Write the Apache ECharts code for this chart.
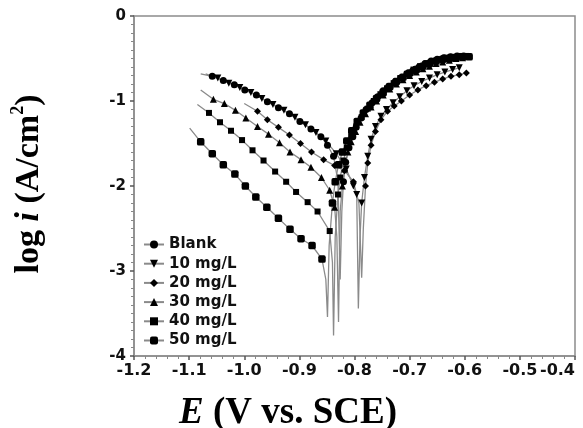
<!DOCTYPE html>
<html>
<head>
<meta charset="utf-8">
<script src="https://cdn.jsdelivr.net/npm/echarts@6/dist/echarts.min.js"></script>
<style>
  html, body { margin: 0; padding: 0; background: #fff; }
  #chart { width: 583px; height: 428px; }
</style>
</head>
<body>
<div id="chart"></div>
<script>
// Données : E (V vs. SCE) et log i (A/cm2)
const blankE = [-1.079, -1.058, -1.038, -1.018, -0.999, -0.978, -0.958, -0.938, -0.918, -0.899, -0.879, -0.861, -0.849, -0.838, -0.830, -0.826, -0.823, -0.820, -0.816, -0.810, -0.803, -0.797, -0.788, -0.779, -0.768, -0.758, -0.748, -0.738, -0.727, -0.716, -0.705, -0.694, -0.683, -0.672, -0.661, -0.650, -0.638, -0.626, -0.614, -0.602];
const blankLogI = [-0.68, -0.71, -0.76, -0.81, -0.87, -0.93, -1.01, -1.08, -1.15, -1.24, -1.33, -1.42, -1.52, -1.65, -1.95, -3.10, -2.30, -1.95, -1.72, -1.55, -1.42, -1.31, -1.20, -1.10, -1.02, -0.95, -0.88, -0.83, -0.78, -0.73, -0.68, -0.64, -0.60, -0.56, -0.53, -0.51, -0.49, -0.48, -0.47, -0.47];
const blankNoMark = [0, 14, 15, 16];

const c10E = [-1.070, -1.048, -1.028, -1.008, -0.988, -0.968, -0.948, -0.928, -0.908, -0.889, -0.870, -0.852, -0.833, -0.815, -0.802, -0.796, -0.793, -0.790, -0.787, -0.782, -0.776, -0.770, -0.762, -0.752, -0.742, -0.730, -0.718, -0.705, -0.692, -0.678, -0.664, -0.650, -0.636, -0.622, -0.610];
const c10LogI = [-0.68, -0.73, -0.79, -0.84, -0.90, -0.97, -1.04, -1.11, -1.19, -1.28, -1.37, -1.47, -1.62, -1.80, -2.00, -2.10, -3.44, -2.60, -2.20, -1.90, -1.65, -1.45, -1.30, -1.18, -1.10, -1.02, -0.95, -0.88, -0.82, -0.77, -0.73, -0.69, -0.66, -0.63, -0.61];
const c10NoMark = [0, 16, 17];

const c20E = [-1.000, -0.976, -0.958, -0.938, -0.918, -0.898, -0.878, -0.856, -0.836, -0.818, -0.802, -0.792, -0.787, -0.784, -0.780, -0.776, -0.770, -0.762, -0.752, -0.740, -0.728, -0.715, -0.700, -0.685, -0.670, -0.655, -0.640, -0.625, -0.610, -0.597];
const c20LogI = [-1.03, -1.12, -1.22, -1.31, -1.40, -1.50, -1.60, -1.69, -1.76, -1.82, -1.95, -2.20, -3.08, -2.50, -2.00, -1.73, -1.52, -1.36, -1.22, -1.12, -1.06, -1.00, -0.93, -0.87, -0.82, -0.78, -0.74, -0.71, -0.69, -0.67];
const c20NoMark = [0, 11, 12, 13];

const c30E = [-1.079, -1.056, -1.036, -1.016, -0.997, -0.976, -0.956, -0.936, -0.917, -0.897, -0.879, -0.860, -0.845, -0.836, -0.832, -0.829, -0.826, -0.822, -0.818, -0.812, -0.806, -0.798, -0.790, -0.780, -0.770, -0.760, -0.748, -0.736, -0.724, -0.712, -0.700, -0.688, -0.676, -0.664, -0.652, -0.640, -0.628, -0.616, -0.604];
const c30LogI = [-0.87, -0.98, -1.03, -1.11, -1.20, -1.30, -1.39, -1.49, -1.60, -1.69, -1.78, -1.90, -2.05, -2.25, -2.60, -3.60, -2.30, -2.00, -1.80, -1.60, -1.48, -1.36, -1.25, -1.15, -1.07, -1.00, -0.93, -0.86, -0.80, -0.75, -0.70, -0.66, -0.62, -0.59, -0.56, -0.54, -0.52, -0.50, -0.49];
const c30NoMark = [0, 14, 15, 16];

const c40E = [-1.085, -1.064, -1.044, -1.024, -1.004, -0.985, -0.965, -0.944, -0.924, -0.906, -0.885, -0.867, -0.845, -0.840, -0.838, -0.835, -0.830, -0.826, -0.820, -0.814, -0.806, -0.797, -0.787, -0.776, -0.765, -0.753, -0.741, -0.729, -0.717, -0.705, -0.693, -0.681, -0.669, -0.657, -0.645, -0.633, -0.621, -0.609, -0.597];
const c40LogI = [-1.04, -1.14, -1.25, -1.35, -1.46, -1.58, -1.70, -1.83, -1.95, -2.07, -2.19, -2.30, -2.53, -2.90, -3.76, -2.60, -2.10, -1.90, -1.70, -1.55, -1.42, -1.30, -1.19, -1.09, -1.00, -0.92, -0.85, -0.79, -0.73, -0.68, -0.63, -0.59, -0.56, -0.53, -0.51, -0.49, -0.48, -0.47, -0.47];
const c40NoMark = [0, 13, 14, 15];

const c50E = [-1.099, -1.079, -1.058, -1.038, -1.017, -0.998, -0.979, -0.959, -0.938, -0.917, -0.897, -0.877, -0.859, -0.852, -0.849, -0.846, -0.840, -0.835, -0.829, -0.822, -0.814, -0.805, -0.795, -0.784, -0.772, -0.760, -0.748, -0.736, -0.724, -0.712, -0.700, -0.688, -0.676, -0.664, -0.652, -0.640, -0.628, -0.616, -0.604, -0.592];
const c50LogI = [-1.32, -1.48, -1.62, -1.75, -1.86, -2.00, -2.13, -2.25, -2.38, -2.51, -2.62, -2.70, -2.86, -3.10, -3.54, -2.70, -2.20, -1.95, -1.75, -1.60, -1.47, -1.35, -1.24, -1.14, -1.05, -0.97, -0.90, -0.83, -0.77, -0.72, -0.67, -0.63, -0.59, -0.56, -0.53, -0.51, -0.50, -0.49, -0.48, -0.48];
const c50NoMark = [0, 13, 14, 15];

const seriesNames = ['Blank', '10 mg/L', '20 mg/L', '30 mg/L', '40 mg/L', '50 mg/L'];
const xTicks = [-1.2, -1.1, -1.0, -0.9, -0.8, -0.7, -0.6, -0.5, -0.4];
const yTicks = [-4, -3, -2, -1, 0];

// Construit les points d'une courbe (sans symbole aux indices donnés)
function buildData(E, logI, noMark) {
    return E.map((e, i) => {
        const item = { value: [e, logI[i]] };
        if (noMark.includes(i)) item.symbol = 'none';
        return item;
    });
}

function makeSerie(name, E, logI, noMark, symbol, size, rotate) {
    return {
        name: name,
        type: 'line',
        data: buildData(E, logI, noMark),
        symbol: symbol,
        symbolSize: size,
        symbolRotate: rotate || 0,
        showAllSymbol: true,
        lineStyle: { color: '#8a8a8a', width: 1.3 },
        itemStyle: { color: '#000', borderWidth: 0 },
        emphasis: { disabled: true }
    };
}

document.addEventListener('DOMContentLoaded', function() {
    const chart = echarts.init(document.getElementById('chart'));
    const tickFont = { fontFamily: 'DejaVu Sans', fontWeight: 'bold', color: '#111' };
    const serif = 'Liberation Serif';

    const option = {
        animation: false,
        backgroundColor: '#fff',
        grid: {
            left: 134, right: 8, top: 16, bottom: 72,
            containLabel: false,
            outerBoundsMode: 'none',
            show: true, borderColor: '#8c8c8c', borderWidth: 1.5
        },
        xAxis: {
            type: 'value',
            min: xTicks[0],
            max: xTicks[xTicks.length - 1],
            interval: 0.1,
            axisLine: { show: true, onZero: false, lineStyle: { color: '#8c8c8c', width: 1.5 } },
            axisTick: { show: true, inside: false, length: 4, lineStyle: { color: '#555', width: 1.5 } },
            minorTick: { show: true, splitNumber: 5, length: 3, lineStyle: { color: '#888' } },
            splitLine: { show: false },
            axisLabel: Object.assign({ margin: 7, fontSize: 16, alignMaxLabel: 'right', formatter: v => v.toFixed(1) }, tickFont)
        },
        yAxis: {
            type: 'value',
            min: yTicks[0],
            max: yTicks[yTicks.length - 1],
            interval: 1,
            axisLine: { show: true, onZero: false, lineStyle: { color: '#8c8c8c', width: 1.5 } },
            axisTick: { show: true, inside: false, length: 4, lineStyle: { color: '#555', width: 1.5 } },
            minorTick: { show: true, splitNumber: 10, length: 3, lineStyle: { color: '#888' } },
            splitLine: { show: false },
            axisLabel: Object.assign({ margin: 8, fontSize: 15, formatter: v => String(v) }, tickFont)
        },
        legend: {
            left: 143,
            top: 237,
            padding: 0,
            orient: 'vertical',
            itemWidth: 20,
            itemHeight: 10,
            itemGap: 4.2,
            data: seriesNames,
            textStyle: { fontFamily: 'DejaVu Sans', fontWeight: 'bold', fontSize: 15, color: '#111' },
            selectedMode: false
        },
        series: [
            makeSerie(seriesNames[0], blankE, blankLogI, blankNoMark, 'circle', 7),
            makeSerie(seriesNames[1], c10E, c10LogI, c10NoMark, 'triangle', 7, 180),
            makeSerie(seriesNames[2], c20E, c20LogI, c20NoMark, 'diamond', 7),
            makeSerie(seriesNames[3], c30E, c30LogI, c30NoMark, 'triangle', 7),
            makeSerie(seriesNames[4], c40E, c40LogI, c40NoMark, 'rect', 6),
            makeSerie(seriesNames[5], c50E, c50LogI, c50NoMark, 'roundRect', 7.5)
        ],
        graphic: [
            {
                type: 'text',
                x: 29, y: 184,
                rotation: Math.PI / 2,
                style: {
                    text: '{b|log }{i|i}{b| (A/cm}{s|2}{b|)}',
                    align: 'center',
                    verticalAlign: 'middle',
                    fill: '#000',
                    rich: {
                        b: { fontFamily: serif, fontWeight: 'bold', fontSize: 34, lineHeight: 40 },
                        i: { fontFamily: serif, fontWeight: 'bold', fontStyle: 'italic', fontSize: 34, lineHeight: 40 },
                        s: { fontFamily: serif, fontWeight: 'bold', fontSize: 18, lineHeight: 22, verticalAlign: 'top' }
                    }
                }
            },
            {
                type: 'text',
                x: 288, y: 413,
                style: {
                    text: '{i|E}{b| (V vs. SCE)}',
                    align: 'center',
                    verticalAlign: 'middle',
                    fill: '#000',
                    rich: {
                        b: { fontFamily: serif, fontWeight: 'bold', fontSize: 37 },
                        i: { fontFamily: serif, fontWeight: 'bold', fontStyle: 'italic', fontSize: 37 }
                    }
                }
            }
        ]
    };
    chart.setOption(option);
    window.addEventListener('resize', () => chart.resize());
});
</script>
</body>
</html>
